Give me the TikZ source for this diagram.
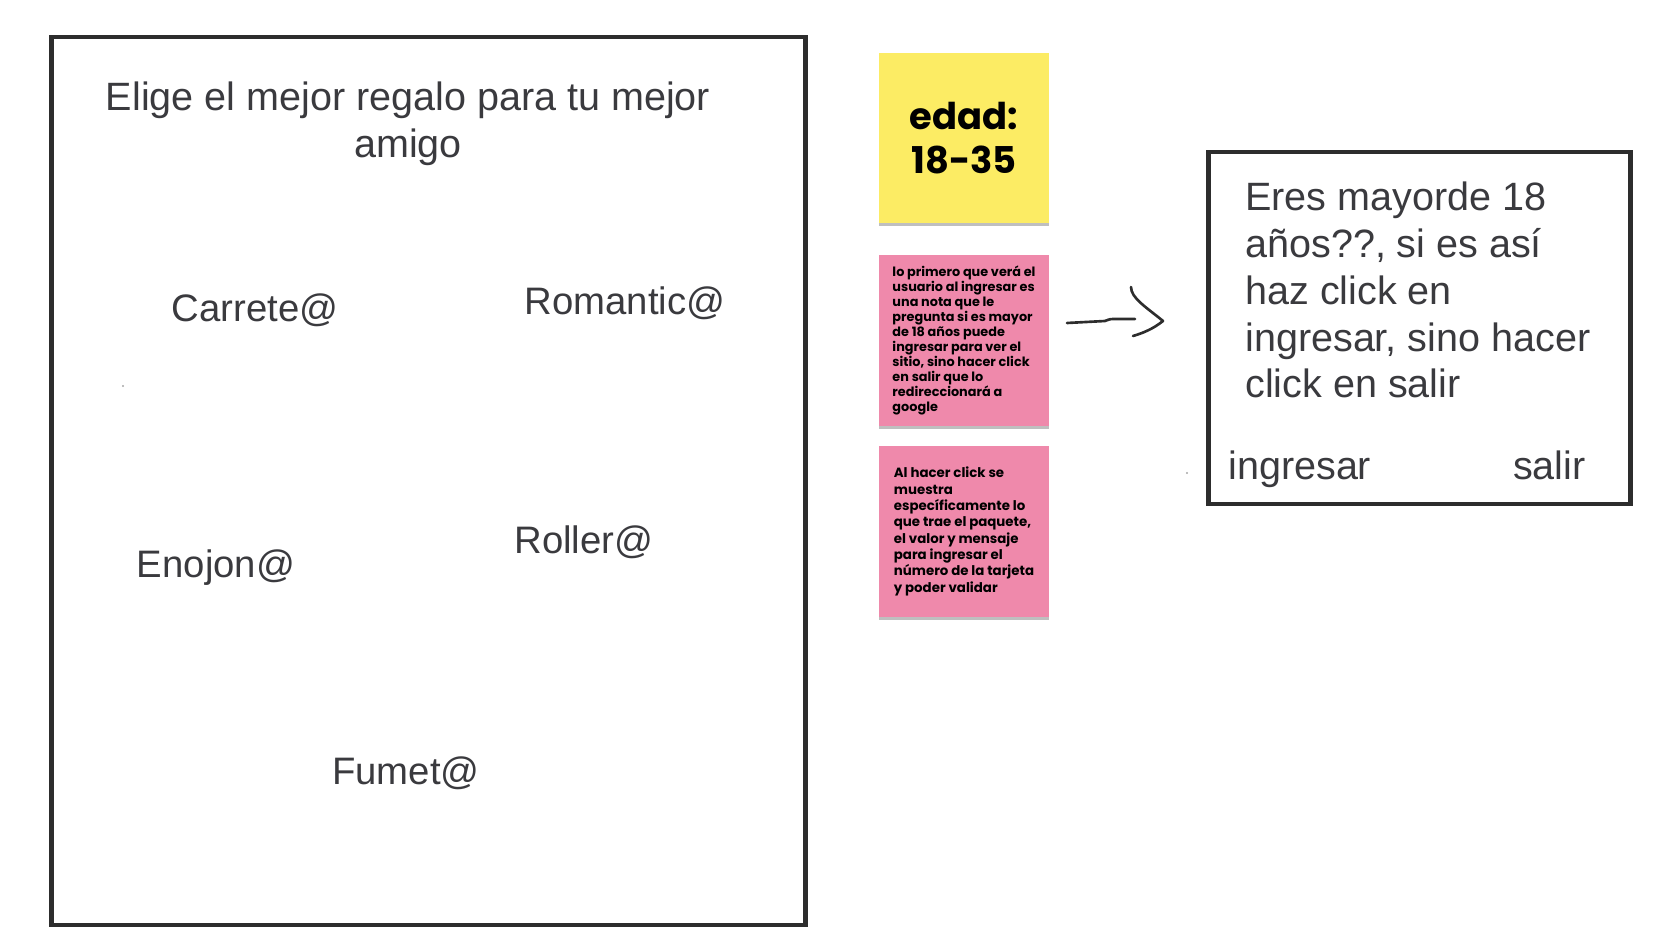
\documentclass[tikz,border=0pt]{standalone}
\usepackage{fontspec}
\setmainfont{Liberation Sans}
\newfontfamily\notefont{Poppins}
\usepackage{tikz}
\usetikzlibrary{shadows}
\usetikzlibrary{positioning}
\definecolor{charcoal}{RGB}{45, 45, 45}
\definecolor{inkgray}{RGB}{58, 58, 62}
\definecolor{sunflower}{RGB}{252, 236, 100}
\definecolor{bubblegum}{RGB}{239, 137, 171}

\begin{document}
\begin{tikzpicture}[x=0.02cm, y=-0.02cm,
        frame/.style={draw=charcoal, line width=2.6pt, minimum width=#1},
        sticky/.style={fill=#1, minimum width=3.42cm, minimum height=3.42cm, inner sep=0pt,
                       drop shadow={shadow xshift=0pt, shadow yshift=-1.6pt, opacity=0.25, fill=black}},
        choice/.style={text=inkgray, font=\fontsize{21.8}{26}\selectfont, anchor=base, inner sep=0pt},
        scribble/.style={draw=charcoal, line width=1.5pt, line cap=round, line join=round}]
    \useasboundingbox (0,0) rectangle (1664,946);

    % wireframe de la pagina de regalos
    \node[frame=15.09cm, minimum height=17.76cm] (giftpage) at (428.5,481) {};
    \node[text=inkgray, font=\fontsize{22.5}{26.6}\selectfont, align=center, anchor=north, inner sep=0pt]
        (gifttitle) at (408,82) {Elige el mejor regalo para tu mejor\\amigo};
    \node[choice] (carrete)  at (255,321) {Carrete@};
    \node[choice] (romantic) at (625,314) {Romantic@};
    \node[choice] (enojon)   at (216,577) {Enojon@};
    \node[choice] (roller)   at (584,553) {Roller@};
    \node[choice] (fumet)    at (406,784) {Fumet@};
    \fill[gray!70] (123,386) circle (1.2);

    % notas
    \node[sticky=sunflower, align=center, font=\notefont\bfseries\fontsize{21}{25}\selectfont]
        (agenote) at (964,138) {edad:\\18-35};
    \node[sticky=bubblegum, align=left, font=\notefont\bfseries\fontsize{7.3}{8.55}\selectfont]
        (firstnote) at (964,340.5) {lo primero que verá el\\usuario al ingresar es\\una nota que le\\pregunta si es mayor\\de 18 años puede\\ingresar para ver el\\sitio, sino hacer click\\en salir que lo\\redireccionará a\\google};
    \node[sticky=bubblegum, align=left, font=\notefont\bfseries\fontsize{7.6}{9.3}\selectfont]
        (clicknote) at (964,531.5) {Al hacer click se\\muestra\\específicamente lo\\que trae el paquete,\\el valor y mensaje\\para ingresar el\\número de la tarjeta\\y poder validar};

    % flecha a mano
    \coordinate (arrowtail) at (1067,323);
    \coordinate (arrowtip)  at (1163,321);
    \draw[scribble] (arrowtail) -- (1105,321) .. controls (1110,319) .. (1116,319) -- (1135,319);
    \draw[scribble] (1131,287) .. controls (1131,298) and (1146,307) .. (arrowtip)
                              .. controls (1153,329) and (1143,333) .. (1133,336);

    % wireframe del aviso de edad
    \node[frame=8.45cm, minimum height=7.04cm] (agegate) at (1419.5,328) {};
    \node[text=inkgray, font=\fontsize{22.5}{26.6}\selectfont, align=left, anchor=north west, inner sep=0pt]
        (gatequestion) at (1245,182) {Eres mayorde 18\\años??, si es así\\haz click en\\ingresar, sino hacer\\click en salir};
    \node[choice, font=\fontsize{22.5}{26.6}\selectfont, anchor=base west] (enterbutton) at (1228,479) {ingresar};
    \node[choice, font=\fontsize{22.5}{26.6}\selectfont, anchor=base east] (exitbutton)  at (1586,479) {salir};
    \fill[gray!70] (1187,473) circle (1.2);
\end{tikzpicture}
\end{document}
